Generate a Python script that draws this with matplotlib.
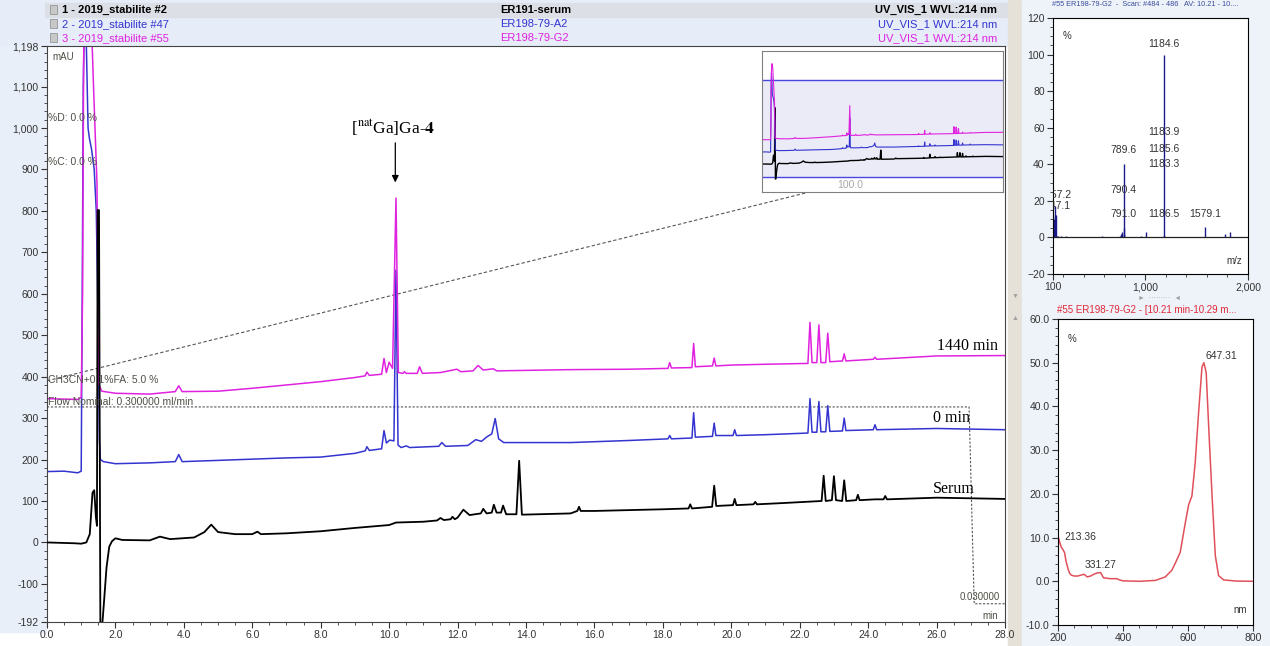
import matplotlib
matplotlib.use("Agg")
import matplotlib.pyplot as plt
from matplotlib.patches import Rectangle
from matplotlib.ticker import MultipleLocator, FixedLocator

plt.rcParams['font.family'] = ['Liberation Sans', 'DejaVu Sans']
plt.rcParams['mathtext.fontset'] = 'stix'

# chromatogram traces as (time in min, signal in mAU)
serum_pts = [(0, 0), (0.8, -2), (1.0, -3), (1.15, 0), (1.25, 20), (1.33, 120), (1.38, 126), (1.43, 60),
             (1.46, 40), (1.48, 802), (1.52, 802), (1.56, -215), (1.6, -215), (1.66, -150), (1.74, -60),
             (1.82, -10), (1.9, 3), (2.0, 10), (2.2, 6), (3.0, 5), (3.3, 14), (3.6, 8), (4.3, 12),
             (4.6, 25), (4.8, 43), (5.0, 25), (5.5, 20), (6.0, 20), (6.15, 26), (6.25, 20), (7.0, 22),
             (8.0, 27), (9.0, 35), (10.0, 42), (10.2, 48), (11.0, 50), (11.4, 53), (11.5, 59),
             (11.6, 54), (11.8, 56), (11.85, 62), (11.92, 56), (12.0, 60), (12.17, 79), (12.35, 66),
             (12.51, 68), (12.68, 70), (12.75, 81), (12.85, 70), (13.0, 72), (13.06, 91), (13.14, 72),
             (13.27, 72), (13.33, 89), (13.42, 68), (13.72, 68), (13.8, 197), (13.88, 67), (15.3, 70),
             (15.5, 76), (15.55, 86), (15.6, 76), (16.0, 76), (17.0, 78), (18.0, 80),
             (18.75, 82), (18.8, 92), (18.85, 82), (19.44, 86), (19.5, 137), (19.56, 88), (20.05, 90),
             (20.1, 105), (20.15, 90), (20.65, 92), (20.7, 98), (20.75, 92), (21.5, 95), (22.64, 100),
             (22.7, 161), (22.76, 100), (22.94, 102), (23.0, 160), (23.06, 102), (23.24, 100),
             (23.3, 150), (23.36, 100), (23.65, 102), (23.7, 115), (23.75, 102), (24.2, 104),
             (24.45, 104), (24.5, 112), (24.55, 104), (26.0, 108), (28.0, 105)]

t0_pts = [(0, 171), (0.5, 172), (0.9, 168), (1.0, 172), (1.03, 600), (1.06, 1100), (1.1, 1300),
          (1.15, 1200), (1.2, 1000), (1.24, 975), (1.3, 950), (1.38, 900), (1.44, 800), (1.5, 500),
          (1.53, 250), (1.56, 200), (1.65, 195), (2.0, 190), (3.0, 192), (3.75, 195), (3.85, 212),
          (3.95, 195), (5.0, 198), (6.0, 201), (7.0, 204), (8.0, 206), (9.0, 215), (9.3, 221),
          (9.35, 231), (9.42, 222), (9.78, 226), (9.85, 270), (9.92, 240), (10.02, 247), (10.14, 245),
          (10.2, 657), (10.26, 235), (10.35, 229), (10.5, 233), (10.6, 229), (11.45, 232), (11.54, 241),
          (11.65, 232), (12.3, 234), (12.53, 248), (12.7, 244), (12.86, 255), (13.0, 262), (13.1, 299),
          (13.2, 250), (13.35, 241), (15.3, 241), (17.0, 246), (18.15, 250), (18.2, 258), (18.25, 250),
          (18.85, 252), (18.9, 313), (18.95, 254), (19.45, 256), (19.5, 288), (19.55, 258),
          (20.05, 258), (20.1, 272), (20.15, 258), (21.0, 260), (22.24, 264), (22.3, 347),
          (22.36, 266), (22.5, 266), (22.56, 340), (22.62, 267), (22.76, 267), (22.82, 330),
          (22.88, 268), (23.25, 269), (23.3, 300), (23.35, 270), (24.15, 272), (24.2, 284),
          (24.25, 272), (26.0, 275), (28.0, 272)]

t1440_pts = [(0, 347), (0.9, 345), (1.0, 350), (1.04, 600), (1.07, 1150), (1.1, 1350), (1.16, 1430),
             (1.24, 1380), (1.3, 1250), (1.36, 1100), (1.42, 960), (1.46, 870), (1.49, 600), (1.52, 380),
             (1.6, 365), (2.0, 360), (3.0, 358), (3.75, 364), (3.85, 378), (3.95, 364), (5.0, 365),
             (6.0, 372), (7.0, 380), (8.0, 388), (9.0, 398), (9.3, 402), (9.35, 411), (9.42, 403),
             (9.78, 406), (9.85, 444), (9.92, 410), (10.0, 435), (10.1, 420), (10.2, 831), (10.27, 410),
             (10.4, 408), (10.45, 412), (10.5, 408), (10.82, 408), (10.89, 424), (10.97, 408),
             (11.5, 410), (11.98, 418), (12.1, 412), (12.45, 414), (12.6, 427), (12.75, 416),
             (13.04, 419), (13.15, 414), (15.3, 417), (17.0, 418),
             (18.15, 420), (18.2, 434), (18.25, 421), (18.85, 422), (18.9, 480), (18.95, 424),
             (19.45, 426), (19.5, 445), (19.55, 426), (20.0, 428), (21.0, 430), (22.24, 432),
             (22.3, 531), (22.36, 434), (22.5, 434), (22.56, 525), (22.62, 434), (22.76, 434),
             (22.82, 505), (22.88, 436), (23.25, 438), (23.3, 455), (23.35, 438), (24.15, 442),
             (24.2, 447), (24.25, 442), (26.0, 450), (28.0, 451)]

t_serum, y_serum = zip(*serum_pts)
t_0min, y_0min = zip(*t0_pts)
t_1440, y_1440 = zip(*t1440_pts)

# MS spectrum of the peak (m/z, relative %)
mz = [106, 112, 118, 123, 130, 139, 149, 181, 230, 327, 577, 668, 750, 760, 770,
      789.6, 790.4, 791.0, 960, 1009, 1183.3, 1183.9, 1184.6, 1185.6, 1186.5, 1579.1, 1779, 1825]
rel = [2, 10, 12, 17, 12, 1, 1, 1, 1, 0.5, 1, 0.5, 1, 2, 3,
       40, 5, 2, 1, 3, 1, 1, 100, 1, 0.5, 5.5, 2, 3]
ms_labels = ['157.2', '147.1', '789.6', '790.4', '791.0', '1184.6', '1183.9', '1185.6', '1183.3',
             '1186.5', '1579.1']
ms_label_x = [150, 140, 789.6, 789.6, 789.6, 1184.6, 1184.6, 1184.6, 1184.6, 1184.6, 1579.1]
ms_label_y = [20.5, 14.5, 45, 23, 10, 103, 55, 45.5, 37.5, 10, 10]

# UV spectrum of the peak (nm, %)
nm = [200, 205, 210, 213, 220, 225, 231, 236, 241, 250, 260, 270, 280, 290, 300, 310, 320, 331,
      340, 350, 360, 380, 390, 400, 450, 500, 530, 550, 560, 576, 592, 602, 612, 622, 633, 643,
      649, 656, 664, 674, 684, 694, 710, 750, 800]
uv = [10.4, 9.0, 7.8, 7.5, 6.6, 4.5, 2.8, 1.8, 1.4, 1.2, 1.2, 1.4, 1.6, 1.0, 1.2, 1.6, 1.9, 2.0,
      0.8, 0.7, 0.6, 0.6, 0.3, 0.1, 0.0, 0.2, 1.0, 2.5, 4.0, 6.6, 13.5, 17.5, 19.5, 27, 39, 49,
      50, 47.7, 34.8, 19.6, 5.9, 1.3, 0.3, 0.05, 0.0]

BLACK = '#000000'
BLUE = '#3434D0'
MAGENTA = '#E022E0'
GRAY_TXT = '#505048'

W, H = 1270, 646
fig = plt.figure(figsize=(W / 100, H / 100), dpi=100)
fig.patch.set_facecolor('white')


def ax_px(l, t, r, b):
    return fig.add_axes([l / W, 1 - b / H, (r - l) / W, (b - t) / H])


def rect_px(l, t, r, b, color):
    fig.patches.append(Rectangle((l / W, 1 - b / H), (r - l) / W, (b - t) / H,
                                 transform=fig.transFigure, color=color, zorder=-5))


def text_px(x, y, s, **kw):
    fig.text(x / W, 1 - y / H, s, **kw)


# window backgrounds
rect_px(0, 0, 1008, 46, '#E6EDF8')
rect_px(45, 3, 1008, 17, '#DDDFE6')
rect_px(0, 46, 46, 632, '#E9EFF8')
rect_px(1008, 0, 1022, 646, '#E6E1D8')
rect_px(1022, 0, 1270, 646, '#EEF3FA')

# header rows
rows = [('1 - 2019_stabilite #2', 'ER191-serum', BLACK, 'bold'),
        ('2 - 2019_stabilite #47', 'ER198-79-A2', BLUE, 'normal'),
        ('3 - 2019_stabilite #55', 'ER198-79-G2', MAGENTA, 'normal')]
for i, (name, samp, c, w) in enumerate(rows):
    y = 10 + i * 14
    fig.patches.append(Rectangle((50 / W, 1 - (y + 4) / H), 7 / W, 9 / H, transform=fig.transFigure,
                                 facecolor='#C8C8C8', edgecolor='#888888', lw=0.5))
    text_px(62, y, name, color=c, fontsize=8, fontweight=w, va='center')
    text_px(500, y, samp, color=c, fontsize=8, fontweight=w, va='center')
    text_px(997, y, 'UV_VIS_1 WVL:214 nm', color=c, fontsize=8, fontweight=w, va='center', ha='right')

# main chromatogram
ax = ax_px(47, 46, 1005, 622)
ax.plot(t_serum, y_serum, color=BLACK, lw=1.3, zorder=3)
ax.plot(t_0min, y_0min, color=BLUE, lw=1.1, zorder=2)
ax.plot(t_1440, y_1440, color=MAGENTA, lw=1.1, zorder=2)
ax.set_xlim(0, 28)
ax.set_ylim(-192, 1198)
ax.set_yticks([-192, -100, 0, 100, 200, 300, 400, 500, 600, 700, 800, 900, 1000, 1100, 1198])
ax.set_yticklabels([f'{v:,}' for v in ax.get_yticks().astype(int)])
ax.yaxis.set_minor_locator(MultipleLocator(20))
ax.set_xticks(range(0, 29, 2))
ax.set_xticklabels([f'{v:.1f}' for v in range(0, 29, 2)])
ax.xaxis.set_minor_locator(MultipleLocator(0.5))
ax.tick_params(which='major', length=4, labelsize=7.5, colors='#333333', pad=2)
ax.tick_params(which='minor', length=2, colors='#333333')
for s in ax.spines.values():
    s.set_color('#444444')

# method annotations
ax.plot([0, 22.5], [390, 850], ls=(0, (3, 2)), color='#555555', lw=0.8, zorder=1)
ax.plot([0, 26.95, 27.1, 28], [327, 327, -148, -148], ls=(0, (2, 1.5)), color='#555555', lw=0.8, zorder=1)
ax.text(0.15, 1171, 'mAU', fontsize=7, color=GRAY_TXT, va='center')
ax.text(0.03, 1024, '%D: 0.0 %', fontsize=7.5, color=GRAY_TXT, va='center')
ax.text(0.03, 918, '%C: 0.0 %', fontsize=7.5, color=GRAY_TXT, va='center')
ax.text(0.03, 391, 'CH3CN+0.1%FA: 5.0 %', fontsize=7.5, color=GRAY_TXT, va='center')
ax.text(0.03, 340, 'Flow Nominal: 0.300000 ml/min', fontsize=7.5, color=GRAY_TXT, va='center')
ax.text(27.85, -131, '0.030000', fontsize=7, color=GRAY_TXT, va='center', ha='right')
ax.text(27.8, -177, 'min', fontsize=7, color=GRAY_TXT, va='center', ha='right')

serif = ['Liberation Serif', 'DejaVu Serif']
ax.text(27.8, 475, '1440 min', fontsize=11.5, family=serif, ha='right', va='center')
ax.text(26.99, 301, '0 min', fontsize=11.5, family=serif, ha='right', va='center')
ax.text(27.13, 130, 'Serum', fontsize=11.5, family=serif, ha='right', va='center')
ax.text(10.12, 1000, r'[$^{\mathrm{nat}}$Ga]Ga-$\mathbf{4}$', fontsize=12.5, family=serif,
        ha='center', va='center')
ax.annotate('', xy=(10.18, 862), xytext=(10.18, 971),
            arrowprops=dict(arrowstyle='-|>', color='black', lw=0.9, mutation_scale=10))

# overview inset
ins = ax_px(762, 51, 1003, 192)
ins.axhspan(-192, 1198, color='#EBEAF7', zorder=0)
ins.axhline(1198, color='#4848E0', lw=1)
ins.axhline(-192, color='#4848E0', lw=1)
ins.plot(t_serum, y_serum, color=BLACK, lw=1.0)
ins.plot(t_0min, y_0min, color=BLUE, lw=0.8)
ins.plot(t_1440, y_1440, color=MAGENTA, lw=0.8)
ins.set_xlim(0, 28)
ins.set_ylim(-400, 1611)
ins.set_xticks([])
ins.set_yticks([])
for s in ins.spines.values():
    s.set_color('#808080')
ins.text(10.2, -300, '100.0', fontsize=7.5, color='#A8A8A8', ha='center', va='center')

# MS panel
ms = ax_px(1053, 18, 1248, 274)
ms.vlines(mz, 0, rel, color='#1A1A8A', lw=1)
ms.axhline(0, color='#222222', lw=0.9)
for lab, lx, ly in zip(ms_labels, ms_label_x, ms_label_y):
    ms.text(lx, ly, lab, fontsize=7.5, color='#333333', ha='center', va='bottom', clip_on=True)
ms.set_xlim(100, 2000)
ms.set_ylim(-20, 120)
ms.set_xticks([100, 1000, 2000])
ms.set_xticklabels(['100', '1,000', '2,000'])
ms.xaxis.set_minor_locator(FixedLocator(range(200, 2000, 200)))
ms.set_yticks(range(-20, 121, 20))
ms.yaxis.set_minor_locator(MultipleLocator(5))
ms.tick_params(which='major', length=4, labelsize=7.5, colors='#333333', pad=2)
ms.tick_params(which='minor', length=2, colors='#333333')
ms.text(0.05, 0.95, '%', transform=ms.transAxes, fontsize=7, color='#333333', va='top')
ms.text(0.97, 0.04, 'm/z', transform=ms.transAxes, fontsize=7, color='#333333', ha='right')
text_px(1052, 5, '#55 ER198-79-G2  -  Scan: #484 - 486   AV: 10.21 - 10....', fontsize=5.3,
        color='#3A4C9A', va='center')

# splitter marks
text_px(1160, 298, '\u25ba  \u00b7\u00b7\u00b7\u00b7\u00b7\u00b7\u00b7\u00b7\u00b7  \u25c4', fontsize=5,
        color='#A0A0A0', ha='center', va='center')
text_px(1015, 296, '\u25bc', fontsize=5, color='#A0A0A0', ha='center', va='center')
text_px(1015, 318, '\u25b2', fontsize=5, color='#A0A0A0', ha='center', va='center')

# UV panel
uvax = ax_px(1058, 319, 1253, 625)
uvax.plot(nm, uv, color='#E0505A', lw=1.1)
uvax.set_xlim(200, 800)
uvax.set_ylim(-10, 60)
uvax.set_xticks([200, 400, 600, 800])
uvax.xaxis.set_minor_locator(MultipleLocator(50))
uvax.set_yticks(range(-10, 61, 10))
uvax.set_yticklabels([f'{v:.1f}' for v in range(-10, 61, 10)])
uvax.yaxis.set_minor_locator(MultipleLocator(2))
uvax.tick_params(which='major', length=4, labelsize=7.5, colors='#333333', pad=2)
uvax.tick_params(which='minor', length=2, colors='#333333')
uvax.text(213.36 + 5, 9, '213.36', fontsize=7.5, color='#333333', va='bottom')
uvax.text(331.27, 2.6, '331.27', fontsize=7.5, color='#333333', ha='center', va='bottom')
uvax.text(647.31 + 5, 50.5, '647.31', fontsize=7.5, color='#333333', va='bottom')
uvax.text(0.05, 0.95, '%', transform=uvax.transAxes, fontsize=7, color='#333333', va='top')
uvax.text(0.97, 0.04, 'nm', transform=uvax.transAxes, fontsize=7, color='#333333', ha='right')
text_px(1057, 310, '#55 ER198-79-G2 - [10.21 min-10.29 m...', fontsize=7, color='#E02838', va='center')

fig.savefig('out.png', dpi=100)
